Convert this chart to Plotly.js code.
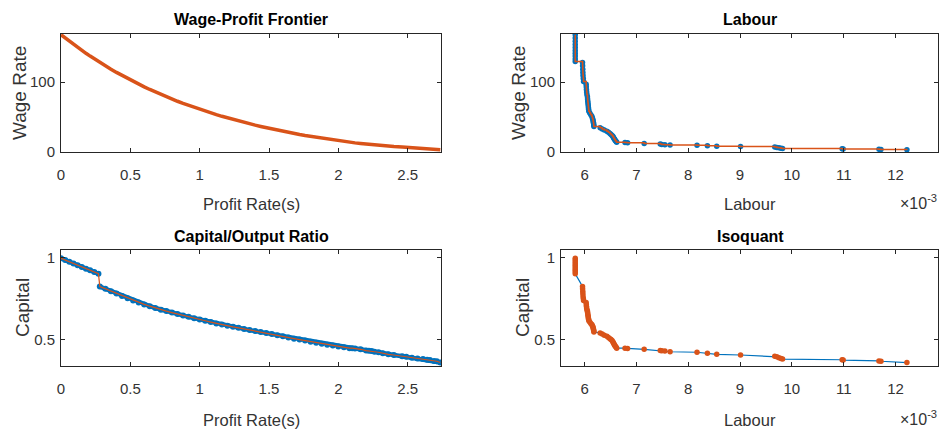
<!DOCTYPE html>
<html><head><meta charset="utf-8">
<script src="https://cdn.plot.ly/plotly-3.0.1.min.js"></script>
<style>html,body{margin:0;padding:0;background:#fff;}#chart{width:940px;height:432px;}</style>
</head><body><div id="chart"></div>
<script>
// ---- data (one entry per profit rate) ----
const profitRate = [0,0.03,0.06,0.09,0.12,0.15,0.18,0.21,0.24,0.27,
  0.28,0.32,0.36,0.40,0.44,0.48,0.52,0.56,0.60,0.64,0.68,0.72,0.76,0.80,0.84,0.88,0.92,0.96,1.00,1.04,1.08,1.12,1.16,1.20,1.24,1.28,1.32,1.36,1.40,1.44,
  1.48,1.52,1.56,1.60,1.64,1.68,1.72,1.76,1.80,1.84,1.88,1.92,1.96,2.00,2.04,2.08,
  2.10,2.12,2.16,2.20,2.22,2.24,2.26,2.29,2.32,2.36,2.40,2.46,2.49,2.53,2.57,2.61,2.64,2.66,2.69,2.71,2.735];
const wageRate = [168,163.3,158.6,154.1,149.8,145.5,141.3,137.3,133.3,129.5,
  128.2,123.3,118.5,113.9,109.5,105.2,101.0,97.0,93.2,89.4,85.8,82.3,78.9,75.7,72.5,69.5,66.6,63.7,61.0,58.3,55.8,53.3,50.9,48.6,46.4,44.3,42.2,40.2,38.2,36.4,
  34.6,32.8,31.1,29.5,27.9,26.4,24.9,23.5,22.2,20.8,19.6,18.3,17.1,16.0,14.9,13.8,
  13.3,12.8,11.9,11.0,10.6,10.2,9.8,9.3,8.8,8.1,7.5,6.7,6.3,5.8,5.2,4.7,4.3,4.0,3.6,3.3,2.9];
const capitalRatio = [0.997,0.987,0.976,0.966,0.955,0.945,0.934,0.924,0.913,0.903,
  0.825,0.811,0.796,0.782,0.768,0.754,0.740,0.728,0.716,0.705,0.694,0.684,0.675,0.666,0.657,0.648,0.640,0.632,0.624,0.616,0.608,0.600,0.593,0.586,0.579,0.573,0.566,0.559,0.553,0.547,
  0.542,0.535,0.528,0.521,0.514,0.507,0.501,0.495,0.488,0.482,0.476,0.470,0.465,0.459,0.454,0.449,
  0.449,0.447,0.442,0.434,0.433,0.431,0.427,0.424,0.418,0.411,0.407,0.400,0.396,0.391,0.386,0.382,0.378,0.376,0.371,0.369,0.361];
const labourE3 = [5.82,5.82,5.82,5.82,5.82,5.82,5.82,5.82,5.82,5.82,
  5.96,5.962,5.965,5.967,5.97,5.975,5.98,6.03,6.033,6.036,6.04,6.045,6.055,6.058,6.062,6.066,6.07,6.074,6.078,6.082,6.10,6.12,6.14,6.15,6.16,6.165,6.17,6.175,6.178,6.18,
  6.30,6.34,6.38,6.43,6.46,6.49,6.51,6.53,6.545,6.555,6.565,6.575,6.585,6.595,6.61,6.62,
  6.78,6.83,7.15,7.46,7.49,7.55,7.65,8.17,8.37,8.55,9.01,9.67,9.71,9.75,9.79,9.82,10.97,10.99,11.68,11.72,12.22];

const profitTicks = [0,0.5,1,1.5,2,2.5];
const labourTicks = [6,7,8,9,10,11,12];
const wageTicks = [0,100];
const capitalTicks = [0.5,1];

// ---- styling ----
const BLUE = '#0072BD', ORANGE = '#D95319';
const FONT = '"Liberation Sans", Arial, Helvetica, sans-serif';
const W = 940, H = 432;
const px = x => x / W, py = y => 1 - y / H;

const split = labourE3.findIndex(v => v !== labourE3[0]);
const seg = (a, s, e) => a.slice(s, e);

const traces = [
  // Wage-Profit Frontier
  {x: profitRate, y: wageRate, mode: 'lines', line: {color: ORANGE, width: 3.5}, xaxis: 'x', yaxis: 'y'},
  // Labour
  {x: labourE3, y: wageRate, mode: 'markers', marker: {color: BLUE, size: 5.5, line: {width: 0}}, xaxis: 'x2', yaxis: 'y2'},
  {x: labourE3, y: wageRate, mode: 'lines', line: {color: ORANGE, width: 1.5, shape: 'hv'}, xaxis: 'x2', yaxis: 'y2'},
  // Capital/Output Ratio
  {x: seg(profitRate, 0, split), y: seg(capitalRatio, 0, split), mode: 'lines+markers', line: {color: BLUE, width: 4.5}, marker: {color: BLUE, size: 6, line: {width: 0}}, xaxis: 'x3', yaxis: 'y3'},
  {x: seg(profitRate, split), y: seg(capitalRatio, split), mode: 'lines+markers', line: {color: BLUE, width: 4.5}, marker: {color: BLUE, size: 6, line: {width: 0}}, xaxis: 'x3', yaxis: 'y3'},
  {x: profitRate, y: capitalRatio, mode: 'lines', line: {color: ORANGE, width: 1.2}, xaxis: 'x3', yaxis: 'y3'},
  // Isoquant
  {x: labourE3, y: capitalRatio, mode: 'lines', line: {color: BLUE, width: 1.2}, xaxis: 'x4', yaxis: 'y4'},
  {x: labourE3, y: capitalRatio, mode: 'markers', marker: {color: ORANGE, size: 5.5, line: {width: 0}}, xaxis: 'x4', yaxis: 'y4'}
];

function ax(domain, range, ticks, anchor, isX) {
  return {
    domain: domain, range: range, tickmode: 'array', tickvals: ticks,
    ticks: 'inside', ticklen: 4, tickwidth: 1, tickcolor: '#262626',
    showline: true, mirror: 'ticks', linecolor: '#262626', linewidth: 1,
    showgrid: false, zeroline: false, anchor: anchor, fixedrange: true,
    ticklabelstandoff: isX ? 9 : 2,
    tickfont: {family: FONT, size: 15, color: '#333'}
  };
}

const xL = [px(61), px(441)], xR = [px(561), px(938)];
const yT = [py(152), py(34)], yB = [py(366), py(250)];

const layout = {
  width: W, height: H, margin: {l: 0, r: 0, t: 0, b: 0},
  paper_bgcolor: '#fff', plot_bgcolor: '#fff', showlegend: false,
  xaxis: ax(xL, [0, 2.74], profitTicks, 'y', true),
  yaxis: ax(yT, [-0.3, 169], wageTicks, 'x'),
  xaxis2: ax(xR, [5.545, 12.82], labourTicks, 'y2', true),
  yaxis2: ax(yT, [-0.3, 169], wageTicks, 'x2'),
  xaxis3: ax(xL, [0, 2.74], profitTicks, 'y3', true),
  yaxis3: ax(yB, [0.34, 1.048], capitalTicks, 'x3'),
  xaxis4: ax(xR, [5.545, 12.82], labourTicks, 'y4', true),
  yaxis4: ax(yB, [0.34, 1.048], capitalTicks, 'x4'),
  annotations: []
};

function note(text, x, y, opts) {
  layout.annotations.push(Object.assign({
    text: text, x: px(x), y: py(y), xref: 'paper', yref: 'paper',
    showarrow: false, xanchor: 'center', yanchor: 'middle'
  }, opts));
}
const titleFont = {family: FONT, size: 16, color: '#000', weight: 'bold'};
const labFont = {family: FONT, size: 16.5, color: '#333'};
const yLabFont = {family: FONT, size: 19, color: '#333'};

note('<b>Wage-Profit Frontier</b>', 251, 19, {font: titleFont});
note('<b>Labour</b>', 750, 19, {font: titleFont});
note('<b>Capital/Output Ratio</b>', 251, 236, {font: titleFont});
note('<b>Isoquant</b>', 750, 236, {font: titleFont});

note('Profit Rate(s)', 251, 204, {font: labFont});
note('Labour', 750, 204, {font: labFont});
note('Profit Rate(s)', 251, 420, {font: labFont});
note('Labour', 750, 420, {font: labFont});

note('Wage Rate', 19, 93, {font: yLabFont, textangle: -90});
note('Wage Rate', 518, 93, {font: yLabFont, textangle: -90});
note('Capital', 22, 308, {font: yLabFont, textangle: -90});
note('Capital', 522, 308, {font: yLabFont, textangle: -90});

note('\u00d710<sup>-3</sup>', 939, 202, {font: {family: FONT, size: 16, color: '#333'}, xanchor: 'right'});
note('\u00d710<sup>-3</sup>', 939, 418, {font: {family: FONT, size: 16, color: '#333'}, xanchor: 'right'});

Plotly.newPlot('chart', traces, layout, {displayModeBar: false, staticPlot: true});
</script></body></html>
